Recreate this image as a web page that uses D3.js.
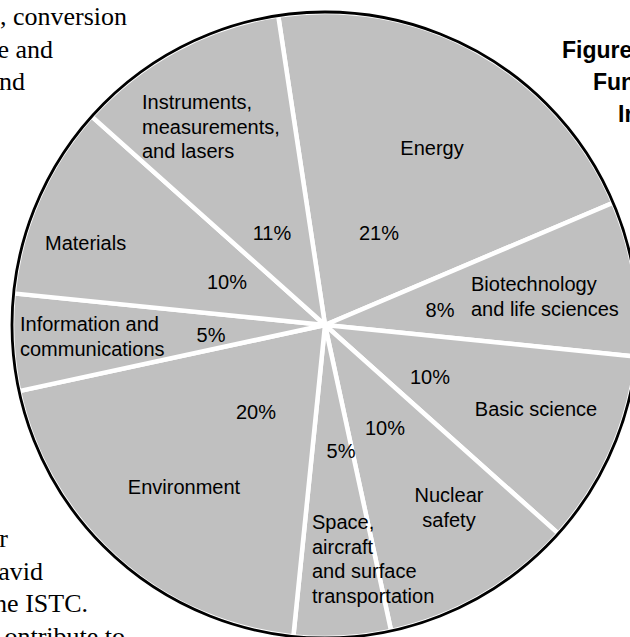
<!DOCTYPE html>
<html>
<head>
<meta charset="utf-8">
<script src="https://cdn.jsdelivr.net/npm/d3@7"></script>
<style>
  html, body { margin: 0; padding: 0; background: #fff; overflow: hidden; }
  svg { display: block; }
</style>
</head>
<body>
<div id="container"></div>
<script>
/* DATA */
const categories = [
  "Energy",
  "Biotechnology and life sciences",
  "Basic science",
  "Nuclear safety",
  "Space, aircraft and surface transportation",
  "Environment",
  "Information and communications",
  "Materials",
  "Instruments, measurements, and lasers"
];
const shares = [21, 8, 10, 10, 5, 20, 5, 10, 11];
const nameLines = [
  ["Energy"],
  ["Biotechnology", "and life sciences"],
  ["Basic science"],
  ["Nuclear", "safety"],
  ["Space,", "aircraft", "and surface", "transportation"],
  ["Environment"],
  ["Information and", "communications"],
  ["Materials"],
  ["Instruments,", "measurements,", "and lasers"]
];
// surrounding page text that shows around the figure
const pageTextLeftTop = [", conversion", "e and", "nd"];
const pageTextLeftBottom = ["r", "avid", "he ISTC.", "ontribute to"];
const pageTitle = ["Figure", "Fun", "In"];

/* LAYOUT */
const width = 630, height = 637;
const cx = 325, cy = 325, radius = 313;
const startAngle = -8.6 * Math.PI / 180;
const lineHeight = 24.5;

// label placement relative to the pie centre: [dx, dy, anchor]
const namePos = [
  [107, -170, "middle"],
  [146, -34, "start"],
  [211, 91, "middle"],
  [124, 177, "middle"],
  [-13, 204, "start"],
  [-141, 169, "middle"],
  [-305, 6, "start"],
  [-280, -75, "start"],
  [-183, -216, "start"]
];
const pctPos = [
  [54, -85], [115, -8], [105, 59], [60, 110], [16, 133],
  [-69, 94], [-114, 17], [-98, -36], [-53, -85]
];

const svg = d3.select("#container")
  .append("svg")
  .attr("width", width)
  .attr("height", height);

/* PAGE TEXT */
const serif = "'Liberation Serif', 'Times New Roman', serif";
const sans = "'Liberation Sans', Arial, Helvetica, sans-serif";

svg.selectAll(".ptTop")
  .data(pageTextLeftTop)
  .join("text")
  .attr("class", "ptTop")
  .attr("x", (d, i) => [127, 53, 25][i])
  .attr("y", (d, i) => 25 + i * 32.5)
  .attr("text-anchor", "end")
  .attr("font-family", serif)
  .attr("font-size", 26)
  .text(d => d);

svg.selectAll(".ptBottom")
  .data(pageTextLeftBottom)
  .join("text")
  .attr("class", "ptBottom")
  .attr("x", (d, i) => [8, 43, 88, 125][i])
  .attr("y", (d, i) => 547 + i * 32.5)
  .attr("text-anchor", "end")
  .attr("font-family", serif)
  .attr("font-size", 26)
  .text(d => d);

svg.selectAll(".title")
  .data(pageTitle)
  .join("text")
  .attr("class", "title")
  .attr("x", (d, i) => [562, 593, 618][i])
  .attr("y", (d, i) => 58 + i * 32)
  .attr("font-family", sans)
  .attr("font-weight", "bold")
  .attr("font-size", 23)
  .text(d => d);

/* PIE */
const pie = d3.pie()
  .sort(null)
  .value(d => d)
  .startAngle(startAngle)
  .endAngle(startAngle + 2 * Math.PI);

const arcs = pie(shares);

const arcGen = d3.arc()
  .innerRadius(0)
  .outerRadius(radius);

const g = svg.append("g")
  .attr("transform", `translate(${cx}, ${cy})`);

g.selectAll(".slice")
  .data(arcs)
  .join("path")
  .attr("class", "slice")
  .attr("d", arcGen)
  .attr("fill", "#c0c0c0")
  .attr("stroke", "#fff")
  .attr("stroke-width", 4.5)
  .attr("stroke-linejoin", "round");

g.append("circle")
  .attr("r", radius)
  .attr("fill", "none")
  .attr("stroke", "#000")
  .attr("stroke-width", 2.8);

/* LABELS */
const names = g.selectAll(".name")
  .data(arcs)
  .join("text")
  .attr("class", "name")
  .attr("font-family", sans)
  .attr("font-size", 20)
  .attr("fill", "#000")
  .attr("text-anchor", (d, i) => namePos[i][2]);

names.selectAll("tspan")
  .data((d, i) => nameLines[i].map(t => ({ t, i })))
  .join("tspan")
  .attr("x", d => namePos[d.i][0])
  .attr("y", (d, j) => namePos[d.i][1] + j * lineHeight)
  .text(d => d.t);

g.selectAll(".pct")
  .data(arcs)
  .join("text")
  .attr("class", "pct")
  .attr("x", (d, i) => pctPos[i][0])
  .attr("y", (d, i) => pctPos[i][1])
  .attr("text-anchor", "middle")
  .attr("font-family", sans)
  .attr("font-size", 20)
  .attr("fill", "#000")
  .text(d => d.data + "%");
</script>
</body>
</html>
